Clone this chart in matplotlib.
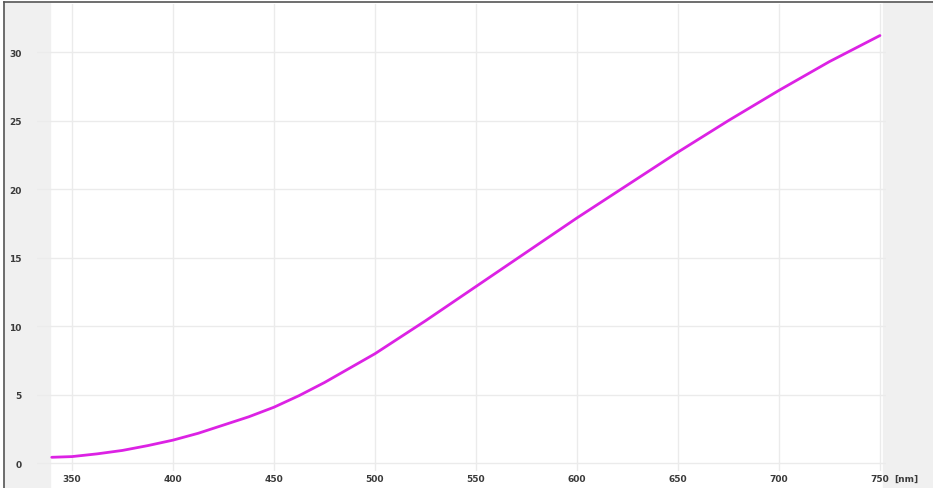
import matplotlib
matplotlib.use("Agg")
import matplotlib.pyplot as plt
from matplotlib.lines import Line2D
from matplotlib.patches import Rectangle

# wavelength samples [nm] and measured response
WAVELENGTH = [340, 350, 362.5, 375, 387.5, 400, 412.5, 425, 437.5, 450,
              462.5, 475, 487.5, 500, 525, 550, 575, 600, 625, 650,
              675, 700, 725, 750]
RESPONSE = [0.45, 0.5, 0.7, 0.95, 1.3, 1.7, 2.2, 2.8, 3.4, 4.1,
            4.95, 5.9, 6.95, 8.0, 10.4, 12.9, 15.4, 17.9, 20.3, 22.7,
            25.0, 27.2, 29.3, 31.2]

X_TICKS = [350, 400, 450, 500, 550, 600, 650, 700, 750]
Y_TICKS = [0, 5, 10, 15, 20, 25, 30]
X_UNIT = "[nm]"

W, H = 933, 489
LINE_COLOR = "#dc22e4"
GRID_COLOR = "#ebebeb"
BAND_COLOR = "#f0f0f0"
TEXT_COLOR = "#3a3a3a"


def main():
    fig = plt.figure(figsize=(W / 100, H / 100), dpi=100)
    fig.patch.set_facecolor("white")

    # grey side bands, kept under the axes
    fig.patches.append(Rectangle((4 / W, 0), (46 / W), 1 - 4 / H,
                                 transform=fig.transFigure, color=BAND_COLOR, zorder=-5))
    fig.patches.append(Rectangle((883 / W, 0), (50 / W), 1 - 4 / H,
                                 transform=fig.transFigure, color=BAND_COLOR, zorder=-5))

    ax = fig.add_axes([37 / W, 17 / H, 849 / W, 467 / H])
    ax.patch.set_alpha(0)
    ax.set_xlim(332.7, 753.0)
    ax.set_ylim(-0.55, 33.5)

    ax.plot(WAVELENGTH, RESPONSE, color=LINE_COLOR, linewidth=2.0,
            solid_capstyle="round", solid_joinstyle="round", zorder=3)

    ax.set_xticks(X_TICKS)
    ax.set_yticks(Y_TICKS)
    ax.set_xticklabels([str(t) for t in X_TICKS])
    ax.set_yticklabels([str(t) for t in Y_TICKS])
    ax.tick_params(length=0, labelsize=6.5, colors=TEXT_COLOR)
    for lbl in ax.get_xticklabels() + ax.get_yticklabels():
        lbl.set_fontweight("bold")
    ax.tick_params(axis="y", pad=11)
    ax.tick_params(axis="x", pad=2)

    ax.grid(True, color=GRID_COLOR, linewidth=1.0)
    ax.set_axisbelow(True)
    for s in ax.spines.values():
        s.set_visible(False)

    fig.text(906 / W, 1 - 479 / H, X_UNIT, fontsize=6.5, fontweight="bold",
             color=TEXT_COLOR, ha="center", va="center")

    # frame on top and left
    fig.add_artist(Line2D([4 / W, 1], [1 - 3 / H, 1 - 3 / H], color="#555555", linewidth=1.2))
    fig.add_artist(Line2D([4 / W, 4 / W], [0, 1 - 3 / H], color="#555555", linewidth=1.2))

    fig.savefig("out.png", dpi=100)


if __name__ == "__main__":
    main()
